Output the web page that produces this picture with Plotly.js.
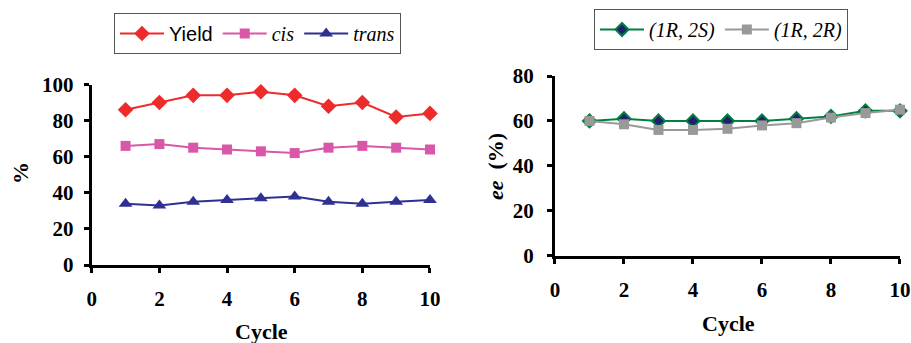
<!DOCTYPE html>
<html><head><meta charset="utf-8">
<script src="https://cdn.plot.ly/plotly-3.0.1.min.js"></script>
<style>html,body{margin:0;padding:0;background:#fff;}#c{width:911px;height:343px;}</style>
</head><body><div id="c"></div>
<script>
const cycles = [1,2,3,4,5,6,7,8,9,10];
const yieldPct = [86, 90, 94, 94, 96, 94, 88, 90, 82, 84];
const cisPct   = [66, 67, 65, 64, 63, 62, 65, 66, 65, 64];
const transPct = [34, 33, 35, 36, 37, 38, 35, 34, 35, 36];
const ee1R2S = [60, 61, 60, 60, 60, 60, 61, 62, 64.5, 64.5];
const ee1R2R = [60, 58.5, 56, 56, 56.5, 58, 59, 61.5, 63.5, 65];
const xTicks = [0,2,4,6,8,10];
const yTicksL = [0,20,40,60,80,100];
const yTicksR = [0,20,40,60,80];

const serif = 'Liberation Serif';
const bold = a => a.map(v => '<b>' + v + '</b>');

const traces = [
 {x:cycles,y:yieldPct,name:'<span style="font-family:Liberation Sans">Yield</span>',mode:'lines+markers',cliponaxis:false,
  line:{color:'#ee2b2b',width:2},marker:{symbol:'diamond',size:12,color:'#ee2b2b'},xaxis:'x',yaxis:'y',legend:'legend'},
 {x:cycles,y:cisPct,name:'<i>cis</i>',mode:'lines+markers',cliponaxis:false,
  line:{color:'#d957a8',width:2},marker:{symbol:'square',size:10,color:'#d957a8'},xaxis:'x',yaxis:'y',legend:'legend'},
 {x:cycles,y:transPct,name:'<i>trans</i>',mode:'lines+markers',cliponaxis:false,
  line:{color:'#2e3192',width:2},marker:{symbol:'triangle-up',size:12,color:'#2e3192'},xaxis:'x',yaxis:'y',legend:'legend'},
 {x:cycles,y:ee1R2S,name:'<i>(1R, 2S)</i>',mode:'lines+markers',cliponaxis:false,
  line:{color:'#008040',width:2},marker:{symbol:'diamond',size:10,color:'#22206e',line:{color:'#008040',width:2}},xaxis:'x2',yaxis:'y2',legend:'legend2'},
 {x:cycles,y:ee1R2R,name:'<i>(1R, 2R)</i>',mode:'lines+markers',cliponaxis:false,
  line:{color:'#999999',width:2},marker:{symbol:'square',size:10,color:'#999999'},xaxis:'x2',yaxis:'y2',legend:'legend2'}
];

const axBase = {showgrid:false,zeroline:false,showline:true,linecolor:'#000',linewidth:3,
  ticks:'outside',ticklen:5,tickwidth:3,tickcolor:'#000',tickmode:'array',
  tickfont:{family:serif,size:21,color:'#000'},fixedrange:true};

const layout = {
  width:911,height:343,margin:{l:0,r:0,t:0,b:0},paper_bgcolor:'#fff',plot_bgcolor:'#fff',
  font:{family:serif,color:'#000'},
  showlegend:true,
  xaxis:Object.assign({},axBase,{domain:[0.1007,0.472],range:[0,10],tickvals:xTicks,ticktext:bold(xTicks),ticklabelstandoff:8,anchor:'y'}),
  yaxis:Object.assign({},axBase,{domain:[0.2274,0.7536],range:[0,100],tickvals:yTicksL,ticktext:bold(yTicksL),ticklabelstandoff:6,anchor:'x'}),
  xaxis2:Object.assign({},axBase,{domain:[0.6092,0.9879],range:[0,10],tickvals:xTicks,ticktext:bold(xTicks),ticklabelstandoff:8,anchor:'y2'}),
  yaxis2:Object.assign({},axBase,{domain:[0.2545,0.7784],range:[0,80],tickvals:yTicksR,ticktext:bold(yTicksR),ticklabelstandoff:9,anchor:'x2'}),
  legend:{orientation:'h',x:114/911,y:1-13/343,xanchor:'left',yanchor:'top',xref:'paper',yref:'paper',
    bordercolor:'#555',borderwidth:1,bgcolor:'#fff',font:{family:serif,size:20,color:'#000'},itemwidth:44},
  legend2:{orientation:'h',x:594/911,y:1-9/343,xanchor:'left',yanchor:'top',xref:'paper',yref:'paper',
    bordercolor:'#555',borderwidth:1,bgcolor:'#fff',font:{family:serif,size:20,color:'#000'},itemwidth:44},
  annotations:[
    {text:'<b>Cycle</b>',xref:'paper',yref:'paper',x:261/911,y:1-331/343,showarrow:false,xanchor:'center',yanchor:'middle',font:{family:serif,size:22,color:'#000'}},
    {text:'<b>Cycle</b>',xref:'paper',yref:'paper',x:728/911,y:1-323/343,showarrow:false,xanchor:'center',yanchor:'middle',font:{family:serif,size:22,color:'#000'}},
    {text:'<b>%</b>',xref:'paper',yref:'paper',x:20/911,y:1-173/343,showarrow:false,textangle:-90,xanchor:'center',yanchor:'middle',font:{family:serif,size:22,color:'#000'}},
    {text:'<b><i>ee</i>  (%)</b>',xref:'paper',yref:'paper',x:495/911,y:1-167/343,showarrow:false,textangle:-90,xanchor:'center',yanchor:'middle',font:{family:serif,size:22,color:'#000'}}
  ]
};
Plotly.newPlot('c',traces,layout,{displayModeBar:false,staticPlot:true});
</script></body></html>
